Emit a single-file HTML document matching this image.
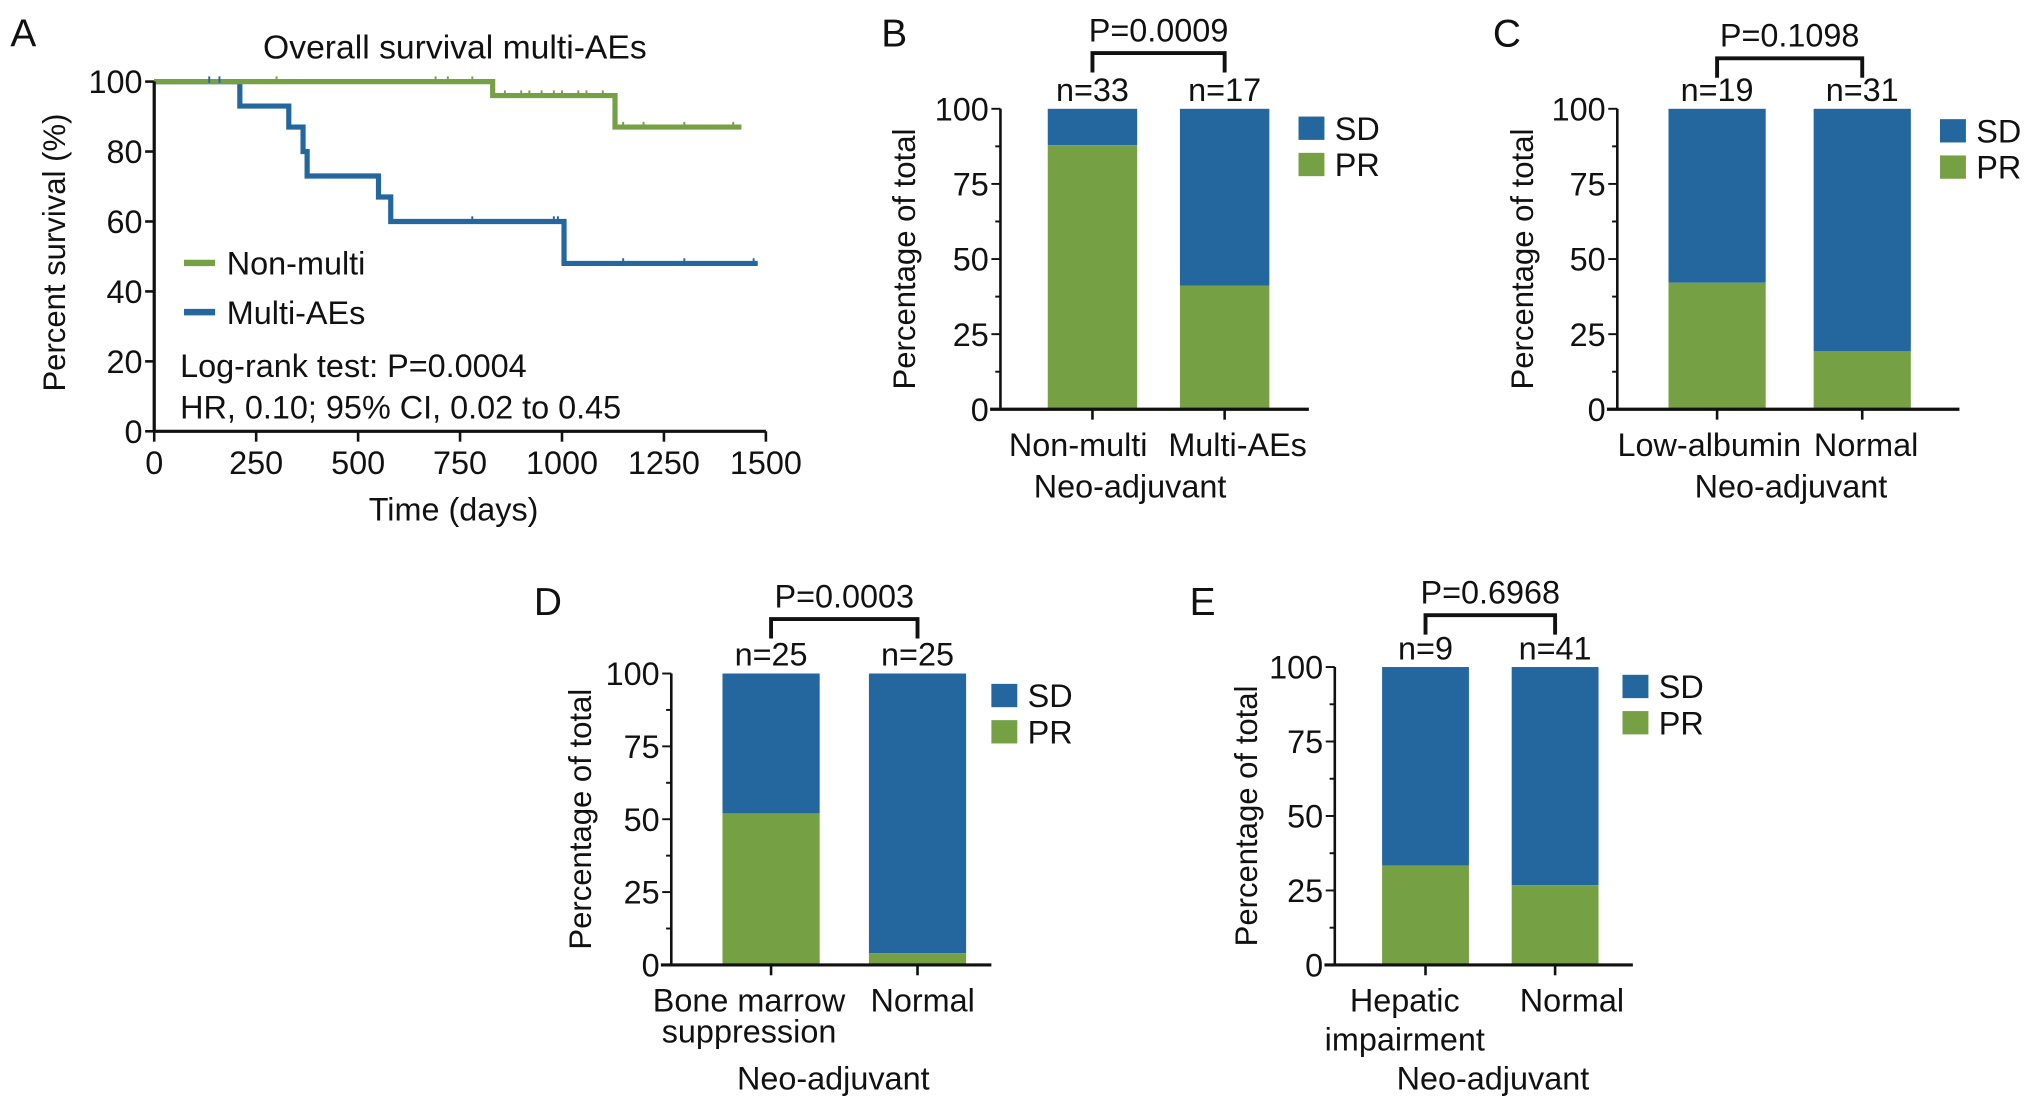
<!DOCTYPE html>
<html><head><meta charset="utf-8"><style>
html,body{margin:0;padding:0;background:#fff;}
svg{display:block;}
text{font-family:"Liberation Sans Narrow","Liberation Sans",sans-serif;fill:#111;}
.yl{font-family:"Liberation Sans",sans-serif;}
</style></head><body>
<svg id="fig" width="2032" height="1110" viewBox="0 0 1568 857" preserveAspectRatio="none" xmlns="http://www.w3.org/2000/svg"></svg>
<script>
// ---- Panel A data (Kaplan-Meier) ----
const kmTimesGreen = [0, 830, 1130, 1440];
const kmSurvGreen = [100, 96, 87, 87];
const kmCensorGreen = [135, 160, 300, 690, 720, 780, 860, 900, 920, 950, 980, 1000, 1040, 1060, 1100, 1150, 1200, 1300, 1420];
const kmTimesBlue = [0, 210, 330, 365, 375, 550, 580, 1005, 1480];
const kmSurvBlue = [100, 93, 87, 80, 73, 67, 60, 48, 48];
const kmCensorBlue = [780, 980, 990, 1150, 1300, 1470];
const kmXTicks = [0, 250, 500, 750, 1000, 1250, 1500];
const kmYTicks = [0, 20, 40, 60, 80, 100];
// ---- Bar panels data ----
const catsB = ["Non-multi", "Multi-AEs"];
const prB = [87.9, 41.2];
const nB = ["n=33", "n=17"];
const catsC = ["Low-albumin", "Normal"];
const prC = [42.1, 19.4];
const nC = ["n=19", "n=31"];
const catsD = ["Bone marrow|suppression", "Normal"];
const prD = [52, 4];
const nD = ["n=25", "n=25"];
const catsE = ["Hepatic|impairment", "Normal"];
const prE = [33.3, 26.8];
const nE = ["n=9", "n=41"];
const barYTicks = [0, 25, 50, 75, 100];

const NS = "http://www.w3.org/2000/svg";
const svg = document.getElementById('fig');
const BLUE = "#23679e", GREEN = "#76a044";
const FS = 25;
function mk(tag, attrs, parent) {
  const e = document.createElementNS(NS, tag);
  for (const k in attrs) e.setAttribute(k, attrs[k]);
  (parent || svg).appendChild(e);
  return e;
}
function txt(x, y, s, size, anchor, parent, cls) {
  const t = mk('text', {x: x, y: y, 'font-size': size, 'text-anchor': anchor || 'middle'}, parent);
  if (cls) t.setAttribute('class', cls);
  t.textContent = s;
  return t;
}

// ---------- Panel A ----------
const gA = mk('g', {});


const ax = {x0: 119, x1: 591, y0: 333, y1: 63};
const sx = t => ax.x0 + (t / 1500) * (ax.x1 - ax.x0);
const sy = v => ax.y0 - (v / 100) * (ax.y0 - ax.y1);
let lab = txt(8, 36, "A", 30, 'start', gA, 'yl');
 
lab = txt(351, 45, "Overall survival multi-AEs", 26, 'middle', gA);
 
function stepPath(ts, ss) {
  let d = `M${sx(ts[0])},${sy(ss[0])}`;
  for (let i = 1; i < ts.length; i++) { d += ` H${sx(ts[i])} V${sy(ss[i])}`; }
  return d;
}
function survAt(ts, ss, t) { let v = ss[0]; for (let i = 0; i < ts.length; i++) if (t >= ts[i]) v = ss[i]; return v; }
let p = mk('path', {d: stepPath(kmTimesBlue, kmSurvBlue), fill: 'none', stroke: BLUE, 'stroke-width': 4}, gA);
 
kmCensorBlue.forEach(t => { const y = sy(survAt(kmTimesBlue, kmSurvBlue, t)); mk('line', {x1: sx(t), x2: sx(t), y1: y - 4, y2: y + 1, stroke: BLUE, 'stroke-width': 1.5}, gA); });
p = mk('path', {d: stepPath(kmTimesGreen, kmSurvGreen), fill: 'none', stroke: GREEN, 'stroke-width': 4}, gA);
 
kmCensorGreen.forEach(t => { const y = sy(survAt(kmTimesGreen, kmSurvGreen, t)); mk('line', {x1: sx(t), x2: sx(t), y1: y - 4, y2: y + 1, stroke: t < 300 ? BLUE : GREEN, 'stroke-width': 1.5}, gA); });
mk('line', {x1: ax.x0, x2: ax.x0, y1: ax.y1, y2: ax.y0, stroke: '#111', 'stroke-width': 2.5}, gA);
mk('line', {x1: ax.x0, x2: ax.x1, y1: ax.y0, y2: ax.y0, stroke: '#111', 'stroke-width': 2.5}, gA);
kmXTicks.forEach(t => { mk('line', {x1: sx(t), x2: sx(t), y1: ax.y0, y2: ax.y0 + 8, stroke: '#111', 'stroke-width': 2}, gA); txt(sx(t), ax.y0 + 33, String(t), FS, 'middle', gA); });
kmYTicks.forEach(v => { mk('line', {x1: ax.x0 - 7, x2: ax.x0, y1: sy(v), y2: sy(v), stroke: '#111', 'stroke-width': 2}, gA); txt(ax.x0 - 9, sy(v) + 9, String(v), FS, 'end', gA); });
lab = txt(0, 0, "Percent survival (%)", 24, 'middle', gA, 'yl');
lab.setAttribute('transform', 'translate(50,195) rotate(-90)');
 
lab = txt(350, 402, "Time (days)", FS, 'middle', gA);
 
let lg = mk('g', {}, gA);
 
mk('line', {x1: 142, x2: 166, y1: 203, y2: 203, stroke: GREEN, 'stroke-width': 5}, lg);
txt(175, 212, "Non-multi", FS, 'start', lg);
lg = mk('g', {}, gA);
 
mk('line', {x1: 142, x2: 166, y1: 241, y2: 241, stroke: BLUE, 'stroke-width': 5}, lg);
txt(175, 250, "Multi-AEs", FS, 'start', lg);
lab = txt(139, 291, "Log-rank test: P=0.0004", FS, 'start', gA);
 
lab = txt(139, 323, "HR, 0.10; 95% CI, 0.02 to 0.45", FS, 'start', gA);
 

// ---------- Bar panels ----------
function barPanel(o, cats, pr, ns) {
  const g = mk('g', {});
  
  
  const y = v => o.y0 - (v / 100) * (o.y0 - o.y1);
  let t = txt(o.letterX, o.letterY, o.id.toUpperCase(), 30, 'start', g, 'yl');
   
  cats.forEach((c, i) => {
    const cx = o.cx[i], w = o.bw;
    const sd = mk('rect', {x: cx - w / 2, y: y(100), width: w, height: y(pr[i]) - y(100), fill: BLUE}, g);
     
    const prr = mk('rect', {x: cx - w / 2, y: y(pr[i]), width: w, height: o.y0 - y(pr[i]), fill: GREEN}, g);
     
    mk('line', {x1: cx, x2: cx, y1: o.y0, y2: o.y0 + 8, stroke: '#111', 'stroke-width': 2}, g);
    const nl = txt(cx, y(100) - 6, ns[i], FS, 'middle', g);
     
    const parts = c.split('|');
    parts.forEach((s, k) => { const tl = txt(o.labX[i], o.labY + k * o.labDy, s, FS, 'middle', g);   });
  });
  mk('line', {x1: o.ax, x2: o.ax, y1: o.y1, y2: o.y0, stroke: '#111', 'stroke-width': 2}, g);
  mk('line', {x1: o.ax - 8, x2: o.axEnd, y1: o.y0, y2: o.y0, stroke: '#111', 'stroke-width': 2.5}, g);
  for (let v = 0; v <= 100; v += 12.5) {
    const major = v % 25 === 0;
    mk('line', {x1: o.ax - (major ? 7 : 4), x2: o.ax, y1: y(v), y2: y(v), stroke: '#111', 'stroke-width': 1.5}, g);
  }
  barYTicks.forEach(v => txt(o.ax - 9, y(v) + 9, String(v), FS, 'end', g));
  t = txt(0, 0, "Percentage of total", 24, 'middle', g, 'yl');
  t.setAttribute('transform', `translate(${o.ylX},${(o.y0 + o.y1) / 2}) rotate(-90)`);
   
  t = txt(o.titleX, o.titleY, "Neo-adjuvant", FS, 'middle', g);
   
  const br = mk('path', {d: `M${o.cx[0]},${o.brY + 15} V${o.brY} H${o.cx[1]} V${o.brY + 15}`, fill: 'none', stroke: '#111', 'stroke-width': 3}, g);
   
  t = txt((o.cx[0] + o.cx[1]) / 2, o.brY - 9, o.p, FS, 'middle', g);
   
  let l = mk('g', {}, g);
   
  mk('rect', {x: o.legX, y: o.legY, width: 20, height: 18, fill: BLUE}, l);
  txt(o.legX + 28, o.legY + 18, "SD", FS, 'start', l);
  l = mk('g', {}, g);
   
  mk('rect', {x: o.legX, y: o.legY + 28, width: 20, height: 18, fill: GREEN}, l);
  txt(o.legX + 28, o.legY + 46, "PR", FS, 'start', l);
}
barPanel({id: 'b', letterX: 680, letterY: 36, y0: 316, y1: 84, ax: 772, axEnd: 1010, cx: [843, 945], bw: 69,
  labX: [832, 955], labY: 352, labDy: 24, titleX: 872, titleY: 384, ylX: 706, brY: 41, p: "P=0.0009", legX: 1002, legY: 90}, catsB, prB, nB);
barPanel({id: 'c', letterX: 1152, letterY: 36, y0: 316, y1: 84, ax: 1248, axEnd: 1512, cx: [1325, 1437], bw: 75,
  labX: [1319, 1440], labY: 352, labDy: 24, titleX: 1382, titleY: 384, ylX: 1183, brY: 45, p: "P=0.1098", legX: 1497, legY: 92}, catsC, prC, nC);
barPanel({id: 'd', letterX: 412, letterY: 475, y0: 745, y1: 520, ax: 518, axEnd: 765, cx: [595, 708], bw: 75,
  labX: [578, 712], labY: 781, labDy: 24, titleX: 643, titleY: 841, ylX: 456, brY: 478, p: "P=0.0003", legX: 765, legY: 528}, catsD, prD, nD);
barPanel({id: 'e', letterX: 918, letterY: 475, y0: 745, y1: 515, ax: 1030, axEnd: 1260, cx: [1100, 1200], bw: 67,
  labX: [1084, 1213], labY: 781, labDy: 30, titleX: 1152, titleY: 841, ylX: 970, brY: 475, p: "P=0.6968", legX: 1252, legY: 521}, catsE, prE, nE);
</script>
</body></html>
